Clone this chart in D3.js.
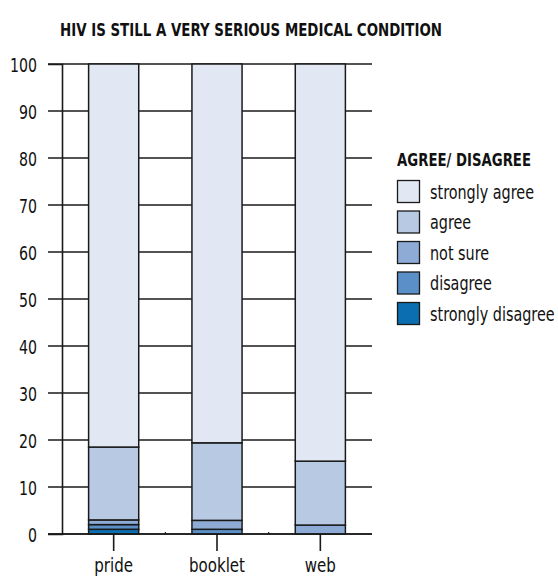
<!DOCTYPE html>
<html>
<head>
<meta charset="utf-8">
<script src="https://cdn.jsdelivr.net/npm/d3@7"></script>
<style>
  body { margin: 0; background: #fff; }
  svg text { font-family: "DejaVu Sans", sans-serif; font-stretch: condensed; fill: #111; }
</style>
</head>
<body>
<div id="chart"></div>
<script>
/* Data */
const CATEGORIES = ["pride", "booklet", "web"]
const SERIES = ["strongly disagree", "disagree", "not sure", "agree", "strongly agree"]
const STRONGLY_DISAGREE = [1.0, 0, 0]
const DISAGREE = [1.0, 1.0, 0]
const NOT_SURE = [1.0, 1.9, 1.9]
const AGREE = [15.5, 16.5, 13.6]
const STRONGLY_AGREE = [81.5, 80.6, 84.5]
const Y_TICKS = [0, 10, 20, 30, 40, 50, 60, 70, 80, 90, 100]
const COLORS = ["#0b6eb0", "#5b8fc8", "#8eabd6", "#b8c9e4", "#e1e8f3"]

/* Layout */
const WIDTH = 558
const HEIGHT = 577
const X0 = 62
const X1 = 372
const Y_TOP = 64
const Y_BOTTOM = 534

/* squeeze texts horizontally so a sample string gets the wanted width */
const fitTo = (sel, sample, target) => {
  let ratio = 1;
  sel.each(function(d) {
    if (this.textContent === sample) ratio = target / this.getComputedTextLength();
  });
  sel.each(function() {
    const w = this.getComputedTextLength();
    d3.select(this).attr("textLength", w * ratio).attr("lengthAdjust", "spacingAndGlyphs");
  });
}

const svg = d3.select("#chart").append("svg")
              .attr("width", WIDTH)
              .attr("height", HEIGHT);

const table = CATEGORIES.map((c, i) => ({
  category: c,
  "strongly disagree": STRONGLY_DISAGREE[i],
  "disagree": DISAGREE[i],
  "not sure": NOT_SURE[i],
  "agree": AGREE[i],
  "strongly agree": STRONGLY_AGREE[i]
}));
const stacked = d3.stack().keys(SERIES)(table);

const xScale = d3.scaleBand().domain(CATEGORIES).range([X0, X1]);
const yScale = d3.scaleLinear().domain([0, 100]).range([Y_BOTTOM, Y_TOP]);
const color = d3.scaleOrdinal().domain(SERIES).range(COLORS);
const barWidth = xScale.bandwidth() * 0.485;

/* title */
const title = svg.append("text")
   .attr("x", 251).attr("y", 36)
   .attr("text-anchor", "middle")
   .style("font-weight", "bold")
   .style("font-size", "18px")
   .text("HIV IS STILL A VERY SERIOUS MEDICAL CONDITION");
fitTo(title, "HIV IS STILL A VERY SERIOUS MEDICAL CONDITION", 382);

/* grid lines behind bars */
svg.append("g")
   .selectAll("line")
   .data(Y_TICKS)
   .join("line")
   .attr("x1", X0 - 14).attr("x2", X1)
   .attr("y1", d => yScale(d)).attr("y2", d => yScale(d))
   .attr("stroke", "#1a1a1a").attr("stroke-width", 1.6);

/* y axis */
const yAxis = d3.axisLeft(yScale).tickValues(Y_TICKS).tickSize(14).tickPadding(11);
const gy = svg.append("g").attr("transform", "translate(" + X0 + ",0)").call(yAxis);
gy.select(".domain").attr("stroke", "#1a1a1a").attr("stroke-width", 1.6);
gy.selectAll(".tick line").remove();
gy.selectAll("text").style("font-size", "20px").attr("dy", "0.38em").attr("font-family", null);
fitTo(gy.selectAll("text"), "100", 27);

/* bars */
svg.append("g")
   .selectAll("g")
   .data(stacked)
   .join("g")
   .attr("fill", d => color(d.key))
   .selectAll("rect")
   .data(d => d.filter(s => s[1] - s[0] > 0))
   .join("rect")
   .attr("x", d => xScale(d.data.category) + (xScale.bandwidth() - barWidth) / 2)
   .attr("y", d => yScale(d[1]))
   .attr("width", barWidth)
   .attr("height", d => yScale(d[0]) - yScale(d[1]))
   .attr("stroke", "#1a1a1a")
   .attr("stroke-width", 1.5);

/* x axis */
const xAxis = d3.axisBottom(xScale).tickSize(17).tickPadding(7);
const gx = svg.append("g").attr("transform", "translate(0," + Y_BOTTOM + ")").call(xAxis);
gx.select(".domain").remove();
gx.selectAll(".tick line").attr("stroke", "#1a1a1a").attr("stroke-width", 1.6);
gx.selectAll("text").style("font-size", "20px").attr("font-family", null);
fitTo(gx.selectAll("text"), "booklet", 56);
gx.append("line")
  .attr("x1", X0 - 14).attr("x2", X1)
  .attr("stroke", "#1a1a1a").attr("stroke-width", 1.6);
/* small separators between bands */
gx.selectAll(".sep")
  .data(CATEGORIES.slice(1))
  .join("line")
  .attr("class", "sep")
  .attr("x1", d => xScale(d)).attr("x2", d => xScale(d))
  .attr("y1", -2).attr("y2", 0)
  .attr("stroke", "#1a1a1a").attr("stroke-width", 1.2);

/* legend */
const legend = svg.append("g").attr("transform", "translate(397,0)");
const legendTitle = legend.append("text")
      .attr("x", 0).attr("y", 166)
      .style("font-weight", "bold")
      .style("font-size", "18px")
      .text("AGREE/ DISAGREE");
fitTo(legendTitle, "AGREE/ DISAGREE", 134);
const legendItems = SERIES.slice().reverse();
const rows = legend.selectAll(".row")
                   .data(legendItems)
                   .join("g")
                   .attr("class", "row")
                   .attr("transform", (d, i) => "translate(0," + (180 + i * 30.5) + ")");
rows.append("rect")
    .attr("x", 0.5).attr("y", 0.5)
    .attr("width", 22).attr("height", 22)
    .attr("fill", d => color(d))
    .attr("stroke", "#1a1a1a").attr("stroke-width", 1.3);
rows.append("text")
    .attr("x", 33).attr("y", 12)
    .attr("dy", "0.35em")
    .style("font-size", "19px")
    .text(d => d);
fitTo(rows.selectAll("text"), "strongly agree", 104);
</script>
</body>
</html>
